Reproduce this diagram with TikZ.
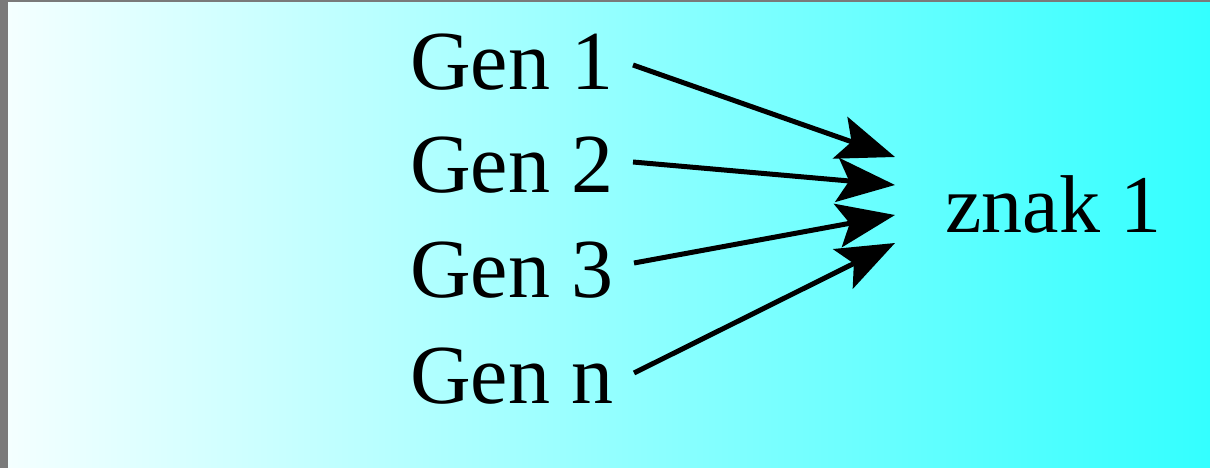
\documentclass[tikz,border=0pt]{standalone}
\usepackage{fontspec}
\setmainfont{Liberation Serif}
\usetikzlibrary{arrows.meta}
\definecolor{framegray}{HTML}{7A7A7A}
\definecolor{bgleft}{HTML}{F4FFFF}
\definecolor{bgright}{HTML}{33FFFF}
\tikzset{
  gen/.style={anchor=base west, inner xsep=0pt, inner ysep=0pt, font=\fontsize{84}{84}\selectfont},
  res/.style={anchor=base west, inner sep=0pt, font=\fontsize{82}{82}\selectfont},
  arr/.style={line width=5pt, -{Stealth[length=58pt, width=44pt, inset=12pt]}, black},
}
\begin{document}
\begin{tikzpicture}[x=1pt,y=-1pt]
\useasboundingbox (0,0) rectangle (1210,468);
\fill[framegray] (0,0) rectangle (1210,468);
\shade[left color=bgleft, right color=bgright] (8,3) rectangle (1210,468);
\node[gen] (g1) at (410,90) {Gen 1};
\node[gen] (g2) at (410,193) {Gen 2};
\node[gen] (g3) at (410,297) {Gen 3};
\node[gen] (gn) at (410,403) {Gen n};
\node[res] (z) at (945,232) {znak 1};
\coordinate (s1) at (633,65);
\coordinate (s2) at (633,162);
\coordinate (s3) at (634,263);
\coordinate (s4) at (634,373);
\coordinate (t1) at (895,157);
\coordinate (t2) at (895,185);
\coordinate (t3) at (895,215);
\coordinate (t4) at (895,243);
\draw[arr] (s1) -- (t1);
\draw[arr] (s2) -- (t2);
\draw[arr] (s3) -- (t3);
\draw[arr] (s4) -- (t4);
\end{tikzpicture}
\end{document}
